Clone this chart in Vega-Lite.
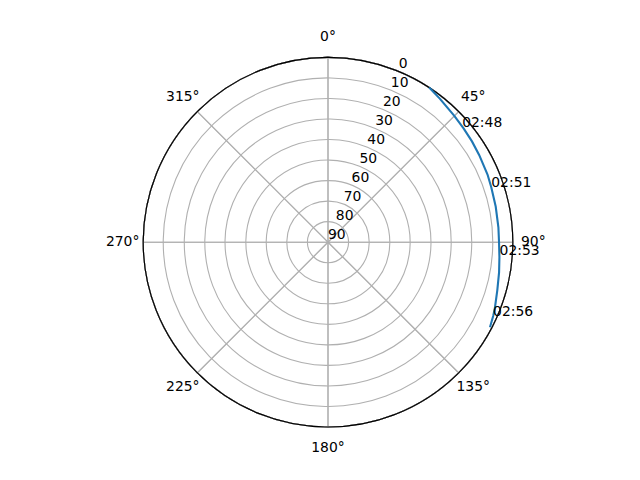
{
  "$schema": "https://vega.github.io/schema/vega-lite/v6.json",
  "width": 369.6,
  "height": 369.6,
  "autosize": {"type": "none"},
  "padding": {"left": 143.2, "top": 57.4, "right": 127.2, "bottom": 53},
  "background": "white",
  "view": {"stroke": null},
  "config": {"font": "DejaVu Sans"},
  "datasets": {
    "track": [
      {"az": 33.2, "el": 0.0},
      {"az": 38, "el": 1.4},
      {"az": 45, "el": 3.0},
      {"az": 50, "el": 3.8},
      {"az": 55, "el": 4.4},
      {"az": 60, "el": 5.0},
      {"az": 67, "el": 5.6},
      {"az": 71.4, "el": 6.1},
      {"az": 78, "el": 6.5},
      {"az": 85, "el": 6.7},
      {"az": 90, "el": 6.7},
      {"az": 95, "el": 6.2},
      {"az": 100, "el": 5.4},
      {"az": 105.8, "el": 4.3},
      {"az": 111.6, "el": 2.6},
      {"az": 114, "el": 1.9},
      {"az": 117.7, "el": 0.9}
    ],
    "times": [
      {"az": 49.3, "el": 3.8, "label": "02:48"},
      {"az": 71.4, "el": 6.1, "label": "02:51"},
      {"az": 94.3, "el": 6.2, "label": "02:53"},
      {"az": 114, "el": 2.0, "label": "02:56"}
    ],
    "rings": [
      {"el": 10}, {"el": 20}, {"el": 30}, {"el": 40}, {"el": 50}, {"el": 60}, {"el": 70}, {"el": 80}
    ],
    "spokes": [
      {"span": 45}, {"span": 45}, {"span": 45}, {"span": 45},
      {"span": 45}, {"span": 45}, {"span": 45}, {"span": 45}
    ],
    "outer": [{"el": 0}],
    "anglabels": [
      {"az": 0, "el": -10, "label": "0°"},
      {"az": 45, "el": -10, "label": "45°"},
      {"az": 90, "el": -10, "label": "90°"},
      {"az": 135, "el": -10, "label": "135°"},
      {"az": 180, "el": -10, "label": "180°"},
      {"az": 225, "el": -10, "label": "225°"},
      {"az": 270, "el": -10, "label": "270°"},
      {"az": 315, "el": -10, "label": "315°"}
    ],
    "rlabels": [
      {"az": 22.5, "el": 0}, {"az": 22.5, "el": 10}, {"az": 22.5, "el": 20},
      {"az": 22.5, "el": 30}, {"az": 22.5, "el": 40}, {"az": 22.5, "el": 50},
      {"az": 22.5, "el": 60}, {"az": 22.5, "el": 70}, {"az": 22.5, "el": 80},
      {"az": 22.5, "el": 90}
    ]
  },
  "layer": [
    {
      "data": {"name": "spokes"},
      "mark": {"type": "arc", "fill": null, "stroke": "#b0b0b0", "strokeWidth": 1.1},
      "encoding": {
        "theta": {"field": "span", "type": "quantitative", "stack": true, "scale": {"domain": [0, 360], "nice": false, "zero": false}}
      }
    },
    {
      "data": {"name": "rings"},
      "mark": {"type": "arc", "fill": null, "stroke": "#b0b0b0", "strokeWidth": 1.1, "theta": 0, "theta2": 6.3},
      "encoding": {
        "radius": {"field": "el", "type": "quantitative", "stack": null, "scale": {"type": "linear", "domain": [0, 90], "reverse": true, "zero": false, "nice": false}}
      }
    },
    {
      "data": {"name": "outer"},
      "mark": {"type": "arc", "fill": null, "stroke": "black", "strokeWidth": 1.1, "theta": 0, "theta2": 6.3},
      "encoding": {
        "radius": {"field": "el", "type": "quantitative", "stack": null}
      }
    },
    {
      "data": {"name": "track"},
      "transform": [
        {"calculate": "(90 - datum.el) * sin(datum.az * PI / 180)", "as": "px"},
        {"calculate": "(90 - datum.el) * cos(datum.az * PI / 180)", "as": "py"}
      ],
      "mark": {"type": "line", "color": "#1f77b4", "strokeWidth": 2.1},
      "encoding": {
        "x": {"field": "px", "type": "quantitative", "scale": {"domain": [-90, 90], "nice": false, "zero": false}, "axis": null},
        "y": {"field": "py", "type": "quantitative", "scale": {"domain": [-90, 90], "nice": false, "zero": false}, "axis": null},
        "order": {"field": "az", "type": "quantitative"}
      }
    },
    {
      "data": {"name": "anglabels"},
      "mark": {"type": "text", "align": "center", "baseline": "middle", "fontSize": 13.9, "color": "black"},
      "encoding": {
        "theta": {"field": "az", "type": "quantitative", "stack": null},
        "radius": {"field": "el", "type": "quantitative", "stack": null},
        "text": {"field": "label", "type": "nominal"}
      }
    },
    {
      "data": {"name": "rlabels"},
      "mark": {"type": "text", "align": "left", "baseline": "bottom", "fontSize": 13.9, "color": "black"},
      "encoding": {
        "theta": {"field": "az", "type": "quantitative", "stack": null},
        "radius": {"field": "el", "type": "quantitative", "stack": null},
        "text": {"field": "el", "type": "quantitative"}
      }
    },
    {
      "data": {"name": "times"},
      "mark": {"type": "text", "align": "left", "baseline": "alphabetic", "fontSize": 13.9, "color": "black"},
      "encoding": {
        "theta": {"field": "az", "type": "quantitative", "stack": null},
        "radius": {"field": "el", "type": "quantitative", "stack": null},
        "text": {"field": "label", "type": "nominal"}
      }
    }
  ]
}
